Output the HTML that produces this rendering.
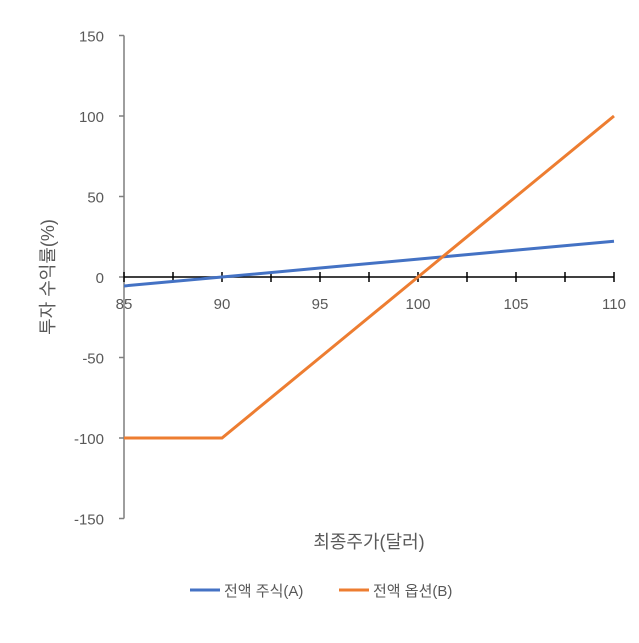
<!DOCTYPE html>
<html><head><meta charset="utf-8"><style>
body{margin:0;background:#fff;width:639px;height:638px;overflow:hidden}
text{font-family:"Liberation Sans","Noto Sans CJK KR",sans-serif;fill:#595959}
</style></head><body>
<svg id="chart" width="639" height="638" xmlns="http://www.w3.org/2000/svg">
<g id="axes"></g><g id="series"></g>
<text x="369" y="548" font-size="18" text-anchor="middle">최종주가(달러)</text>
<text transform="translate(54,277) rotate(-90)" font-size="18" text-anchor="middle">투자 수익률(%)</text>
<g>
<line x1="190" y1="590" x2="220" y2="590" stroke="#4472C4" stroke-width="3"/>
<text x="224" y="596" font-size="15">전액 주식(A)</text>
<line x1="339" y1="590" x2="369" y2="590" stroke="#ED7D31" stroke-width="3"/>
<text x="373" y="596" font-size="15">전액 옵션(B)</text>
</g>
</svg>
<script>
const prices=[85,90,95,100,105,110];
const stockReturns=[-5.56,0,5.56,11.11,16.67,22.22];
const optionReturns=[-100,-100,-50,0,50,100];
const xTicks=[85,90,95,100,105,110];
const yTicks=[-150,-100,-50,0,50,100,150];
const NS="http://www.w3.org/2000/svg";
const xS=v=>124+(v-85)*(490/25);
const yS=v=>277-v*(483/300);
function mk(tag,attrs,parent){const e=document.createElementNS(NS,tag);for(const k in attrs)e.setAttribute(k,attrs[k]);parent.appendChild(e);return e;}
const ax=document.getElementById('axes'),se=document.getElementById('series');
let l=mk('line',{x1:xS(85),y1:yS(150),x2:xS(85),y2:yS(-150),stroke:'#7f7f7f','stroke-width':1.5},ax);


yTicks.forEach(t=>{
 const tk=mk('line',{x1:xS(85)-5,y1:yS(t),x2:xS(85),y2:yS(t),stroke:'#7f7f7f','stroke-width':1.5},ax);
 
 
 const tx=mk('text',{x:104,y:yS(t)+6,'font-size':15,'text-anchor':'end'},ax);
 tx.textContent=t;
 
 
});
l=mk('line',{x1:xS(85),y1:yS(0),x2:xS(110),y2:yS(0),stroke:'#000','stroke-width':1.5},ax);


for(let v=85;v<=110.01;v+=2.5){
 const tk=mk('line',{x1:xS(v),y1:yS(0)-5,x2:xS(v),y2:yS(0)+5,stroke:'#000','stroke-width':1.5},ax);
 
 
}
xTicks.forEach(t=>{
 const tx=mk('text',{x:xS(t),y:yS(0)+32,'font-size':15,'text-anchor':'middle'},ax);
 tx.textContent=t;
 
 
});
function line(vals,color,name){
 const p=mk('polyline',{points:prices.map((x,i)=>xS(x)+','+yS(vals[i])).join(' '),fill:'none',stroke:color,'stroke-width':3},se);
 
 
}
line(stockReturns,'#4472C4','stock-line');
line(optionReturns,'#ED7D31','option-line');
</script>
</body></html>
